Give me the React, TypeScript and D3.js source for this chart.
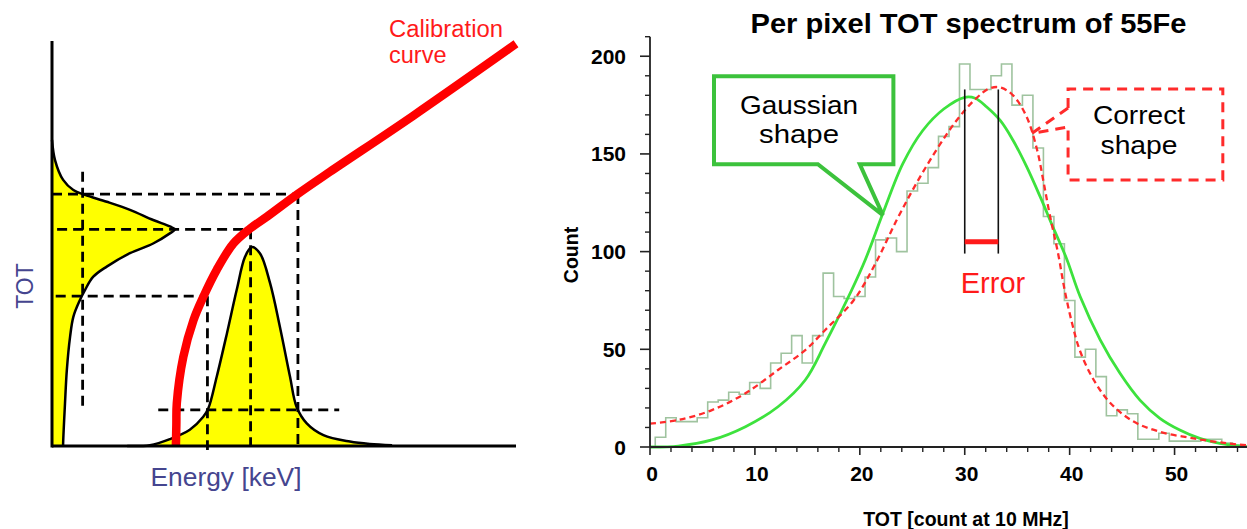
import React from 'react';
import * as d3 from 'd3';

// ---------- left panel: calibration sketch (energy / TOT in arbitrary units 0..100) ----------
const calibrationCurve: [number, number][] = [
    [26.7, 0], [26.8, 5.2], [26.9, 10.6], [28.3, 22.0], [30.5, 31.1], [32.6, 36.8],
    [35.5, 43.5], [39.1, 50.0], [42.7, 53.7], [46.3, 56.6], [52.8, 62.1], [59.9, 67.7],
    [77.8, 81.5], [100, 99.3],
];

// energy peak: [energy, height]
const energyPeak: [number, number][] = [
    [16.2, 0], [21.1, 0.2], [25.4, 1.7], [29.7, 4.0], [32.6, 7.2], [33.7, 9.3], [35.5, 17.1],
    [37.7, 27.8], [39.8, 38.5], [41.6, 46.7], [43.0, 49.1], [44.8, 47.6], [47.0, 40.2],
    [49.1, 29.5], [51.3, 17.1], [52.7, 9.7], [54.9, 5.6], [58.5, 2.7], [64.2, 1.1],
    [68.5, 0.5], [73.3, 0.2],
];

// TOT distribution: [tot, width]
const totPeak: [number, number][] = [
    [75.6, 0], [70.6, 0.65], [65.7, 2.4], [63.2, 4.6], [62.0, 7.1], [60.3, 11.8], [58.3, 16.8],
    [55.8, 21.8], [54.2, 25.4], [53.5, 26.5], [52.5, 25.4], [50.0, 21.8], [47.6, 16.8],
    [44.3, 11.8], [41.8, 8.9], [38.5, 7.1], [36.0, 6.0], [31.9, 4.6], [27.0, 3.9], [18.8, 3.2],
    [10.5, 2.8], [0.7, 2.4], [0, 2.4],
];

// dashed guides: [e1, t1, e2, t2]
const guides: [number, number, number, number][] = [
    [0, 62.2, 53.0, 62.2], [53.0, 62.2, 53.0, 0],
    [1.1, 53.5, 42.8, 53.5], [42.8, 53.5, 42.8, 0],
    [0.8, 37.0, 33.5, 37.0], [33.5, 37.0, 33.5, -1],
    [6.6, 67.7, 6.6, 8.9],
    [22.9, 8.9, 61.9, 8.9],
];

// ---------- right panel: per pixel TOT spectrum ----------
const histCounts = [
    0, 5, 15, 13, 13, 15, 23, 24, 28, 27, 33, 30, 43, 48, 57, 43, 57, 89, 77, 76, 77, 87,
    106, 107, 100, 131, 135, 143, 159, 164, 196, 183, 183, 190, 196, 175, 180, 153, 118, 104,
    75, 46, 50, 36, 16, 19, 17, 4, 4, 7, 3, 3, 3, 4, 4, 2, 1,
];

const gaussFit: [number, number][] = [
    [0, 0], [2.7, 0.5], [5.9, 3.6], [9.1, 10.4], [12.2, 20.6], [14.8, 34.3], [16.7, 53],
    [20.3, 93], [22.2, 119.6], [24.1, 145], [26, 162], [28, 173], [30, 179], [31, 178.5],
    [32.1, 174], [33.4, 167], [34.6, 157], [35.9, 143.5], [37.2, 128], [38.4, 112.7],
    [39.7, 96.5], [41, 77], [42.9, 55], [44.8, 37.7], [46.7, 24], [48.6, 14.7], [50.5, 8.7],
    [52.4, 4.4], [54.3, 1.9], [56.5, 0.3], [57, 0.2],
];

const correctFit: [number, number][] = [
    [0, 12], [2.7, 13.8], [5.9, 18.9], [9.1, 27.5], [12.2, 39.4], [14.8, 49.6], [16.7, 59.9],
    [19.4, 75], [21.5, 94], [23.5, 116], [25.4, 135], [27.3, 152], [29.2, 167], [31.1, 178.5],
    [32.4, 183.6], [33.4, 184], [34.6, 180], [35.9, 169], [36.9, 152], [37.5, 136],
    [38.1, 119], [38.9, 99], [39.5, 81], [40.2, 64], [41, 49], [42.3, 34.3], [43.9, 22.4],
    [46.1, 13], [48.6, 7.8], [51.8, 4.4], [55, 1.9], [57, 0.8],
];

const yTicks = [0, 50, 100, 150, 200];
const xTicks = [0, 10, 20, 30, 40, 50];
const gaussPeakX = 30.0;
const correctPeakX = 33.2;
const errorLevel = 105;

const FONT = 'Liberation Sans, Arial, sans-serif';

export default function App() {
    // left scales
    const xL = d3.scaleLinear().domain([0, 100]).range([52, 516]);
    const yL = d3.scaleLinear().domain([0, 100]).range([446, 41]);

    // right scales
    const xR = d3.scaleLinear().domain([0, 57]).range([650, 1248]);
    const yR = d3.scaleLinear().domain([0, 210]).range([447, 36.7]);

    const calLine = d3.line<[number, number]>().x(d => xL(d[0])).y(d => yL(d[1])).curve(d3.curveCatmullRom);

    const peakArea = d3.area<[number, number]>().x(d => xL(d[0])).y0(yL(0)).y1(d => yL(d[1])).curve(d3.curveCatmullRom);
    const peakLine = d3.line<[number, number]>().x(d => xL(d[0])).y(d => yL(d[1])).curve(d3.curveCatmullRom);

    const totArea = d3.area<[number, number]>().y(d => yL(d[0])).x0(xL(0)).x1(d => xL(d[1])).curve(d3.curveCatmullRom);
    const totLine = d3.line<[number, number]>().x(d => xL(d[1])).y(d => yL(d[0])).curve(d3.curveCatmullRom);

    // histogram steps
    const stepPts: [number, number][] = histCounts.map((c, i) => [Math.max(0, i - 0.5), c]);
    stepPts.push([histCounts.length - 0.5, histCounts[histCounts.length - 1]]);
    const stepLine = d3.line<[number, number]>().x(d => xR(Math.min(57, d[0]))).y(d => yR(d[1])).curve(d3.curveStepAfter);

    const fitLine = d3.line<[number, number]>().x(d => xR(d[0])).y(d => yR(d[1])).curve(d3.curveCatmullRom);

    const minorY = d3.range(10, 211, 10).filter(v => v % 50 !== 0);
    const minorX = d3.range(2, 57, 2).filter(v => v % 10 !== 0);

    // callouts (data coordinates)
    const gBox = { x0: 6.1, x1: 23.2, y0: 189.7, y1: 144.7, p0: 16.0, p1: 20.0, tip: [22.2, 118.7] };
    const gPath = `M${xR(gBox.x0)},${yR(gBox.y0)}H${xR(gBox.x1)}V${yR(gBox.y1)}H${xR(gBox.p1)}L${xR(gBox.tip[0])},${yR(gBox.tip[1])}L${xR(gBox.p0)},${yR(gBox.y1)}H${xR(gBox.x0)}Z`;
    const cBox = { x0: 39.85, x1: 54.6, y0: 183.2, y1: 136.6, g0: 173.5, g1: 163.8, tip: [36.4, 160.5] };
    const cPath = `M${xR(cBox.x0)},${yR(cBox.g0)}V${yR(cBox.y0)}H${xR(cBox.x1)}V${yR(cBox.y1)}H${xR(cBox.x0)}V${yR(cBox.g1)}` +
        `M${xR(cBox.x0)},${yR(cBox.g0)}L${xR(cBox.tip[0])},${yR(cBox.tip[1])}L${xR(cBox.x0)},${yR(cBox.g1)}`;

    return (
        <svg width={1247} height={529} viewBox="0 0 1247 529"
            style={{ position: 'absolute', left: 0, top: 0, background: '#fff', fontFamily: FONT }}>
            {/* ===== left panel ===== */}
            <path d={totArea(totPeak) || ''} fill="#ffff00" />
            <path d={peakArea(energyPeak) || ''} fill="#ffff00" />
            <path d={totLine(totPeak) || ''} fill="none" stroke="#000" strokeWidth={2.5} />
            <path d={peakLine(energyPeak) || ''} fill="none" stroke="#000" strokeWidth={2.5} />
            {guides.map((g, i) => (
                <line key={i} x1={xL(g[0])} y1={yL(g[1])} x2={xL(g[2])} y2={yL(g[3])}
                    stroke="#000" strokeWidth={2.8} strokeDasharray="10 6" />
            ))}
            <path d={calLine(calibrationCurve) || ''} fill="none" stroke="#ff0000" strokeWidth={8.5} />
            <line x1={xL(0)} y1={yL(0)} x2={xL(100)} y2={yL(0)} stroke="#000" strokeWidth={3} />
            <line x1={xL(0)} y1={yL(0) + 1.5} x2={xL(0)} y2={yL(100)} stroke="#000" strokeWidth={3} />
            <text x={389} y={37} fill="#ff1a1a" fontSize={23.5} textLength={114} lengthAdjust="spacingAndGlyphs">Calibration</text>
            <text x={389} y={63} fill="#ff1a1a" fontSize={23.5}>curve</text>
            <text x={226} y={486} fill="#45458f" fontSize={25} textAnchor="middle" textLength={151} lengthAdjust="spacingAndGlyphs">Energy [keV]</text>
            <text transform="translate(33,286) rotate(-90)" fill="#45458f" fontSize={23} textAnchor="middle">TOT</text>

            {/* ===== right panel ===== */}
            <text x={968.5} y={33} fontSize={28} fontWeight="bold" textAnchor="middle" textLength={436} lengthAdjust="spacingAndGlyphs">
                Per pixel TOT spectrum of 55Fe
            </text>

            <path d={stepLine(stepPts) || ''} fill="none" stroke="#9fc39f" strokeWidth={1.6} />
            <path d={fitLine(gaussFit) || ''} fill="none" stroke="#3de23d" strokeWidth={2.8} />
            <path d={fitLine(correctFit) || ''} fill="none" stroke="#ff2b2b" strokeWidth={2.3} strokeDasharray="6 4" />

            {/* axes */}
            <line x1={xR(0)} y1={yR(0)} x2={xR(57)} y2={yR(0)} stroke="#222" strokeWidth={1.8} />
            <line x1={xR(0)} y1={yR(0)} x2={xR(0)} y2={yR(210)} stroke="#222" strokeWidth={1.8} />
            {yTicks.map(v => (
                <g key={'y' + v}>
                    <line x1={xR(0) - 10} x2={xR(0)} y1={yR(v)} y2={yR(v)} stroke="#222" strokeWidth={1.6} />
                    <text x={626} y={yR(v) + 7.5} fontSize={21} fontWeight="bold" textAnchor="end">{v}</text>
                </g>
            ))}
            {minorY.map(v => (
                <line key={'my' + v} x1={xR(0) - 5} x2={xR(0)} y1={yR(v)} y2={yR(v)} stroke="#222" strokeWidth={1.4} />
            ))}
            {xTicks.map(v => (
                <g key={'x' + v}>
                    <line x1={xR(v)} x2={xR(v)} y1={yR(0)} y2={yR(0) + 8} stroke="#222" strokeWidth={1.6} />
                    <text x={xR(v) + 2} y={481} fontSize={21} fontWeight="bold" textAnchor="middle">{v}</text>
                </g>
            ))}
            {minorX.map(v => (
                <line key={'mx' + v} x1={xR(v)} x2={xR(v)} y1={yR(0)} y2={yR(0) + 5} stroke="#222" strokeWidth={1.4} />
            ))}
            <text x={966} y={526} fontSize={19.5} fontWeight="bold" textAnchor="middle">TOT [count at 10 MHz]</text>
            <text transform="translate(578,255) rotate(-90)" fontSize={19.5} fontWeight="bold" textAnchor="middle">Count</text>

            {/* error markers */}
            <line x1={xR(gaussPeakX)} x2={xR(gaussPeakX)} y1={yR(183)} y2={yR(99)} stroke="#111" strokeWidth={1.6} />
            <line x1={xR(correctPeakX)} x2={xR(correctPeakX)} y1={yR(183)} y2={yR(99)} stroke="#111" strokeWidth={1.6} />
            <line x1={xR(gaussPeakX)} x2={xR(correctPeakX)} y1={yR(errorLevel)} y2={yR(errorLevel)} stroke="#ff1a1a" strokeWidth={5} />
            <text x={993} y={293} fill="#ff1a1a" fontSize={29} textAnchor="middle">Error</text>

            {/* callouts */}
            <path d={gPath} fill="#fff" stroke="#3cc23c" strokeWidth={4} strokeLinejoin="miter" />
            <text x={799} y={114} fontSize={25.5} textAnchor="middle" textLength={118} lengthAdjust="spacingAndGlyphs">Gaussian</text>
            <text x={799} y={143} fontSize={25.5} textAnchor="middle" textLength={80} lengthAdjust="spacingAndGlyphs">shape</text>
            <path d={cPath} fill="none" stroke="#ff2b2b" strokeWidth={3} strokeDasharray="10 7" />
            <text x={1139} y={124} fontSize={25.5} textAnchor="middle" textLength={92} lengthAdjust="spacingAndGlyphs">Correct</text>
            <text x={1139} y={154} fontSize={25.5} textAnchor="middle" textLength={77} lengthAdjust="spacingAndGlyphs">shape</text>
        </svg>
    );
}
